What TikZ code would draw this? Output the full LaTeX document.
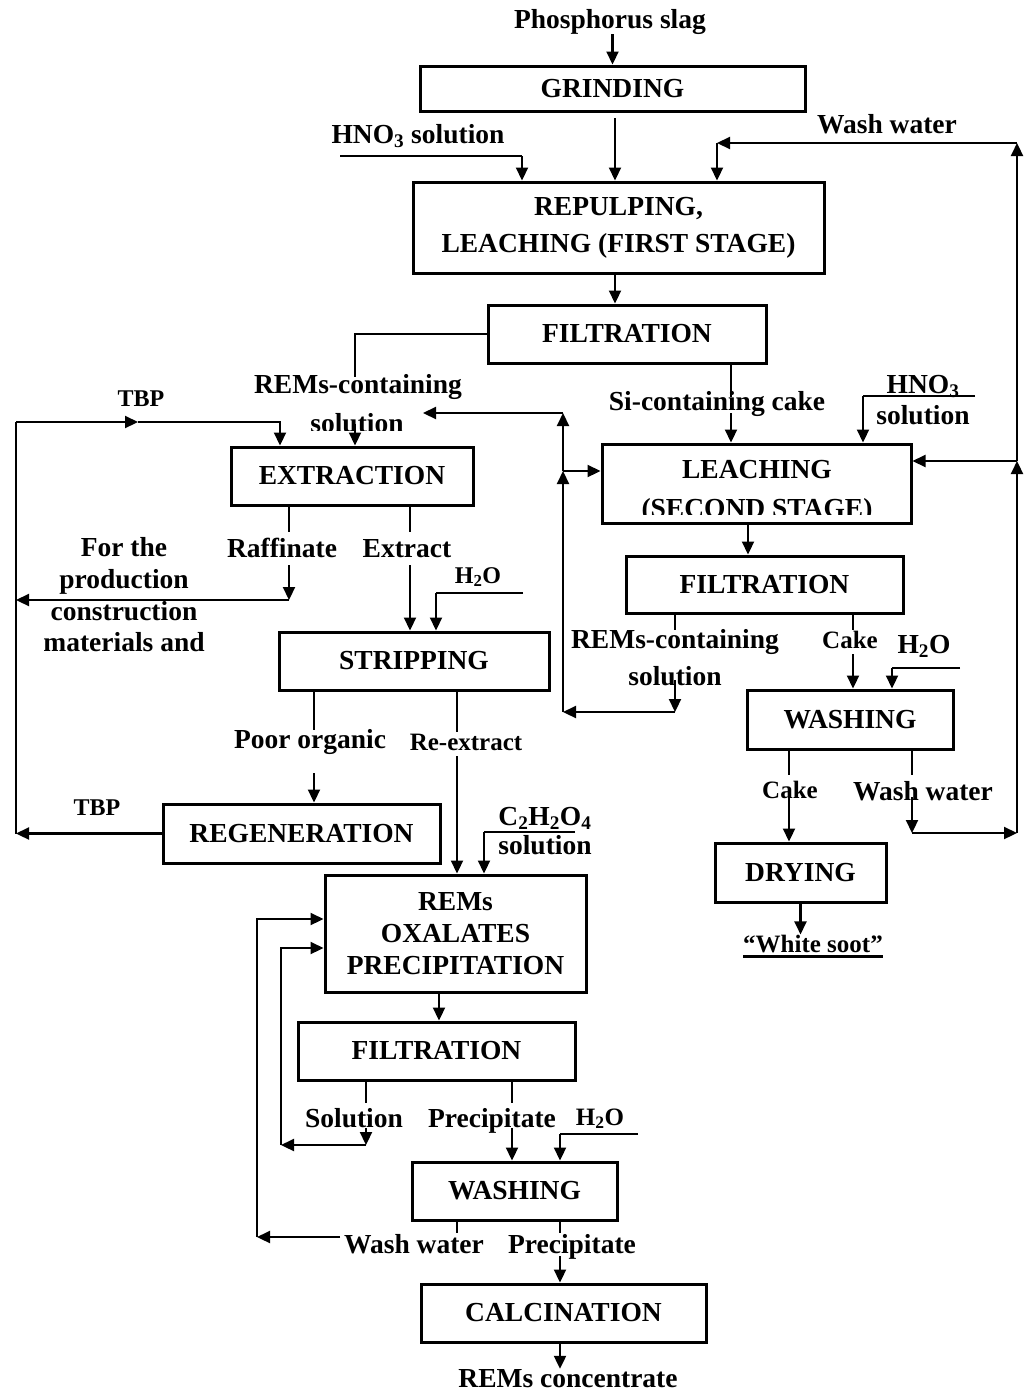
\documentclass[tikz,border=0pt]{standalone}
\usepackage{fontspec}
\setmainfont{Liberation Serif}
\usetikzlibrary{arrows.meta}
\newcommand\myul[1]{\vtop{\hbox{#1}\kern3pt\hrule height 2.6pt}}
\begin{document}
\begin{tikzpicture}[x=1pt,y=-1pt,
  fnt/.style={font=\bfseries\fontsize{27.5}{32}\selectfont},
  smf/.style={font=\bfseries\fontsize{24}{28}\selectfont},
  ftf/.style={font=\bfseries\fontsize{25}{30}\selectfont},
  txt/.style={fnt, inner sep=0pt, anchor=base},
  box/.style={draw, line width=3pt, inner sep=0pt, align=center, fnt},
  arr/.style={line width=2.2pt, -{Triangle[length=13pt,width=12pt]}},
  ln/.style={line width=2.2pt},
  stub/.style={line width=1.6pt},
]
\useasboundingbox (0,0) rectangle (1025,1392);
\fill[white] (0,0) rectangle (1025,1392);

% ---------- boxes ----------
\node[box, minimum width=385, minimum height=45] (grind) at (612.5,88.5) {GRINDING};
\node[box, minimum width=411, minimum height=91, font=\bfseries\fontsize{27.5}{37}\selectfont] (repulp) at (618.5,227.5) {REPULPING,\\LEACHING (FIRST STAGE)};
\node[box, minimum width=278, minimum height=58] (filt1) at (627,334) {FILTRATION};
\node[box, minimum width=242, minimum height=58] (extr) at (352,476) {EXTRACTION};
\node[box, minimum width=309, minimum height=79] (leach2) at (756.5,483.5) {};
\begin{scope}
  \clip (604,446) rectangle (909,514);
  \node[inner sep=0pt, align=center, font=\bfseries\fontsize{27.5}{39}\selectfont] (leach2txt) at (757,492) {LEACHING\\(SECOND STAGE)};
\end{scope}
\node[box, minimum width=277, minimum height=57] (filt2) at (764.5,584.5) {FILTRATION};
\node[box, minimum width=270, minimum height=58] (strip) at (414,661) {STRIPPING};
\node[box, minimum width=206, minimum height=59] (wash1) at (850,719.5) {WASHING};
\node[box, minimum width=277, minimum height=59] (regen) at (301.5,833.5) {REGENERATION};
\node[box, minimum width=171, minimum height=59] (drying) at (800.5,872.5) {DRYING};
\node[box, minimum width=261, minimum height=117] (oxal) at (455.5,933.5) {REMs\\OXALATES\\PRECIPITATION};
\node[box, minimum width=277, minimum height=58] (filt3) at (436.5,1051) {FILTRATION};
\node[box, minimum width=205, minimum height=58] (wash2) at (514.5,1191) {WASHING};
\node[box, minimum width=285, minimum height=58] (calc) at (563.5,1313) {CALCINATION};

% ---------- labels ----------
\node[txt] (slag) at (610,28) {Phosphorus slag};
\node[txt] (hno3a) at (418,143) {HNO\textsubscript{3} solution};
\node[txt] (wwtop) at (887,133) {Wash water};
\node[txt] (rem1) at (358,393) {REMs-containing};
\begin{scope}
  \clip (280,380) rectangle (440,430);
  \node[txt] (sol1) at (357,432) {solution};
\end{scope}
\node[txt] (sicake) at (717,410) {Si-containing cake};
\node[txt] (hno3b) at (923,393) {HNO\textsubscript{3}};
\node[txt] (sol2) at (923,424) {solution};
\node[txt,smf] (tbp1) at (141,406) {TBP};
\node[inner sep=0pt, align=center, font=\bfseries\fontsize{27.5}{31.7}\selectfont] (forthe) at (124,595) {For the\\production\\construction\\materials and};
\node[txt] (raff) at (282,557) {Raffinate};
\node[txt] (extract) at (407,557) {Extract};
\node[txt,smf] (h2o1) at (478,583) {H\textsubscript{2}O};
\node[txt] (rem2) at (675,648) {REMs-containing};
\node[txt] (sol3) at (675,685) {solution};
\node[txt,ftf] (cake1) at (850,648) {Cake};
\node[txt] (h2o2) at (924,653) {H\textsubscript{2}O};
\node[txt] (poor) at (310,748) {Poor organic};
\node[txt,ftf] (reext) at (466,750) {Re-extract};
\node[txt,smf] (tbp2) at (97,815) {TBP};
\node[txt] (oxac) at (545,825) {C\textsubscript{2}H\textsubscript{2}O\textsubscript{4}};
\node[txt] (sol4) at (545,854) {solution};
\node[txt,ftf] (cake2) at (790,798) {Cake};
\node[txt] (ww2) at (923,800) {Wash water};
\node[txt,ftf] (wsoot) at (813,952) {\myul{“White soot”}};
\node[txt] (solu) at (354,1127) {Solution};
\node[txt] (prec1) at (492,1127) {Precipitate};
\node[txt,ftf] (h2o3) at (600,1125) {H\textsubscript{2}O};
\node[txt] (ww3) at (414,1253) {Wash water};
\node[txt] (prec2) at (572,1253) {Precipitate};
\node[txt] (remc) at (568,1387) {REMs concentrate};

% ---------- connectors: top ----------
\draw[arr] (slag.south -| grind.north) -- (grind.north);
\coordinate (g1) at (615,118);
\draw[arr] (g1) -- (g1 |- repulp.north);
\coordinate (hc1) at (340,156); \coordinate (hc2) at (522,156);
\draw[stub] (hc1) -- (hc2);
\draw[arr] (hc2) -- (hc2 |- repulp.north);

% right loop
\coordinate (rb) at (1017,833); \coordinate (rm) at (1017,461);
\coordinate (rt) at (1017,143); \coordinate (wc) at (717,143);
\draw[arr] (rb) -- (rm);
\draw[arr] (rm) -- (rt);
\draw[arr] (rt) -- (wc);
\draw[arr] (wc) -- (wc |- repulp.north);
\draw[arr] (rm) -- (rm -| leach2.east);

\coordinate (f1) at (615,273);
\draw[arr] (repulp.south -| f1) -- (filt1.north -| f1);

% REMs-containing solution (first)
\coordinate (r1a) at (355,334); \coordinate (r1b) at (355,377);
\draw[stub] (filt1.west) -- (r1a) -- (r1b);
\coordinate (r1c) at (355,424);
\draw[arr] (r1c) -- (r1c |- extr.north);

% Si-containing cake
\coordinate (s1) at (731,397); \coordinate (s2) at (731,413);
\draw[stub] (filt1.south -| s1) -- (s1);
\draw[arr] (s2) -- (s2 |- leach2.north);

% HNO3 second
\coordinate (hb1) at (975,396); \coordinate (hb2) at (863,396);
\draw[stub] (hb1) -- (hb2);
\draw[arr] (hb2) -- (hb2 |- leach2.north);

% left loop at x=563
\coordinate (lb) at (563,712); \coordinate (lm) at (563,471);
\coordinate (lt) at (563,413); \coordinate (lsol) at (423,413);
\draw[arr] (lb) -- (lm);
\draw[arr] (lm) -- (lt);
\draw[arr] (lt) -- (lsol);
\draw[arr] (lm) -- (lm -| leach2.west);

\coordinate (q1) at (748,523);
\draw[arr] (leach2.south -| q1) -- (filt2.north -| q1);

% REMs-containing solution (second)
\coordinate (u1) at (675,630); \coordinate (u2) at (675,680); \coordinate (u3) at (675,712);
\draw[stub] (filt2.south -| u1) -- (u1);
\draw[arr] (u2) -- (u3);
\draw[arr] (u3) -- (lb);

% Cake -> washing
\coordinate (k1) at (853,630); \coordinate (k2) at (853,654);
\draw[stub] (filt2.south -| k1) -- (k1);
\draw[arr] (k2) -- (k2 |- wash1.north);
\coordinate (hw1) at (960,668); \coordinate (hw2) at (892,668);
\draw[stub] (hw1) -- (hw2);
\draw[arr] (hw2) -- (hw2 |- wash1.north);

% Cake -> drying
\coordinate (k3) at (789,775); \coordinate (k4) at (789,795);
\draw[stub] (wash1.south -| k3) -- (k3);
\draw[arr] (k4) -- (k4 |- drying.north);

% Wash water -> right loop
\coordinate (w1) at (912,775); \coordinate (w2) at (912,797); \coordinate (w3) at (912,833);
\draw[stub] (wash1.south -| w1) -- (w1);
\draw[arr] (w2) -- (w3);
\draw[arr] (w3) -- (rb);

\draw[arr] (drying.south) -- (drying.south |- wsoot.north);

% ---------- left part ----------
\coordinate (lvt) at (16,422); \coordinate (lvb) at (16,833.5);
\coordinate (tbm) at (138,422); \coordinate (tbc) at (280,422);
\draw[ln] (lvb) -- (lvt);
\draw[arr] (lvt) -- (tbm);
\draw[arr] (tbm) -- (tbc) -- (tbc |- extr.north);
\draw[arr] (regen.west) -- (lvb);

% Raffinate
\coordinate (ra1) at (289,532); \coordinate (ra2) at (289,565);
\coordinate (ra3) at (289,600); \coordinate (lv2) at (16,600);
\draw[stub] (extr.south -| ra1) -- (ra1);
\draw[arr] (ra2) -- (ra3);
\draw[arr] (ra3) -- (lv2);

% Extract
\coordinate (ex1) at (410,532); \coordinate (ex2) at (410,565);
\draw[stub] (extr.south -| ex1) -- (ex1);
\draw[arr] (ex2) -- (ex2 |- strip.north);
\coordinate (hs1) at (523,593); \coordinate (hs2) at (436,593);
\draw[stub] (hs1) -- (hs2);
\draw[arr] (hs2) -- (hs2 |- strip.north);

% Poor organic
\coordinate (po1) at (314,730); \coordinate (po2) at (314,773);
\draw[stub] (strip.south -| po1) -- (po1);
\draw[arr] (po2) -- (po2 |- regen.north);

% Re-extract
\coordinate (re1) at (457,732); \coordinate (re2) at (457,756);
\draw[stub] (strip.south -| re1) -- (re1);
\draw[arr] (re2) -- (re2 |- oxal.north);
\coordinate (ca1) at (575,832); \coordinate (ca2) at (484,832);
\draw[stub] (ca1) -- (ca2);
\draw[arr] (ca2) -- (ca2 |- oxal.north);

% ---------- bottom ----------
\coordinate (ox1) at (439,992);
\draw[arr] (oxal.south -| ox1) -- (filt3.north -| ox1);

\coordinate (so1) at (366,1103); \coordinate (so2) at (366,1128);
\coordinate (so3) at (366,1145); \coordinate (so4) at (281,1145);
\coordinate (so5) at (281,948);
\draw[stub] (filt3.south -| so1) -- (so1);
\draw[arr] (so2) -- (so3);
\draw[arr] (so3) -- (so4);
\draw[arr] (so4) -- (so5) -- (so5 -| oxal.west);

\coordinate (pr1) at (512,1103); \coordinate (pr2) at (512,1128);
\draw[stub] (filt3.south -| pr1) -- (pr1);
\draw[arr] (pr2) -- (pr2 |- wash2.north);
\coordinate (hx1) at (638,1134); \coordinate (hx2) at (560,1134);
\draw[stub] (hx1) -- (hx2);
\draw[arr] (hx2) -- (hx2 |- wash2.north);

\coordinate (wb0) at (457,1233);
\draw[stub] (wash2.south -| wb0) -- (wb0);
\coordinate (wb1) at (340,1237); \coordinate (wb2) at (257,1237); \coordinate (wb3) at (257,919);
\draw[arr] (wb1) -- (wb2);
\draw[arr] (wb2) -- (wb3) -- (wb3 -| oxal.west);

\coordinate (pp1) at (560,1233); \coordinate (pp2) at (560,1256);
\draw[stub] (wash2.south -| pp1) -- (pp1);
\draw[arr] (pp2) -- (pp2 |- calc.north);
\draw[arr] (calc.south -| pp1) -- (remc.north -| pp1);
\end{tikzpicture}
\end{document}
